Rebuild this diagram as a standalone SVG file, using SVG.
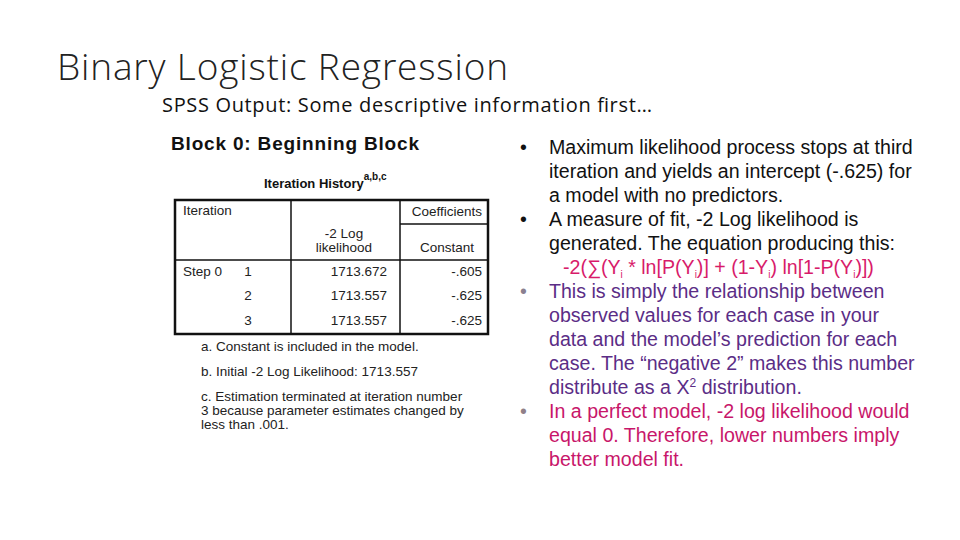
<svg xmlns="http://www.w3.org/2000/svg" width="960" height="540" viewBox="0 0 960 540">
<style>
.t{font-family:"Liberation Sans",Arial,sans-serif;fill:#111}
.r{font-family:"Liberation Sans",Arial,sans-serif;font-size:19.6px}
.s{font-family:"Liberation Sans",Arial,sans-serif;font-size:13.5px;fill:#222}
.tb{fill:none;stroke:#111;stroke-width:2.5}
.ln{stroke:#111;stroke-width:1.5}
</style>
<rect width="960" height="540" fill="#fff"/>
<g id="title">
<text x="57" y="80" font-family="'Open Sans',sans-serif" font-weight="300" font-size="37" fill="#222" textLength="451">Binary Logistic Regression</text>
<text x="162" y="112" font-family="'Open Sans',sans-serif" font-size="20" fill="#111" textLength="490">SPSS Output:  Some descriptive information first…</text>
</g>
<g id="table">
<text x="171" y="150" class="t" font-size="19" font-weight="bold" textLength="248">Block 0: Beginning Block</text>
<text x="264" y="188" class="t" font-size="13" font-weight="bold">Iteration History<tspan font-size="10" dy="-8">a,b,c</tspan></text>
<rect x="175" y="200" width="313" height="134" class="tb"/>
<line x1="291" y1="200" x2="291" y2="334" class="ln"/>
<line x1="400" y1="200" x2="400" y2="334" class="ln"/>
<line x1="400" y1="224" x2="488" y2="224" class="ln"/>
<line x1="175" y1="260" x2="488" y2="260" class="ln"/>
<text x="183" y="215" class="s">Iteration</text>
<text x="482" y="216" class="s" text-anchor="end">Coefficients</text>
<text x="344" y="238" class="s" font-size="12.5" text-anchor="middle">-2 Log</text>
<text x="344" y="252" class="s" font-size="12.5" text-anchor="middle">likelihood</text>
<text x="474" y="252" class="s" text-anchor="end">Constant</text>
<text x="183" y="276" class="s">Step 0</text>
<text x="248" y="276" class="s" text-anchor="middle">1</text>
<text x="248" y="300" class="s" text-anchor="middle">2</text>
<text x="248" y="325" class="s" text-anchor="middle">3</text>
<text x="387" y="276" class="s" text-anchor="end">1713.672</text>
<text x="387" y="300" class="s" text-anchor="end">1713.557</text>
<text x="387" y="325" class="s" text-anchor="end">1713.557</text>
<text x="482" y="276" class="s" text-anchor="end">-.605</text>
<text x="482" y="300" class="s" text-anchor="end">-.625</text>
<text x="482" y="325" class="s" text-anchor="end">-.625</text>
<text x="201" y="351" class="s">a. Constant is included in the model.</text>
<text x="201" y="376" class="s">b. Initial -2 Log Likelihood: 1713.557</text>
<text x="201" y="401" class="s">c. Estimation terminated at iteration number</text>
<text x="201" y="415" class="s">3 because parameter estimates changed by</text>
<text x="201" y="429" class="s">less than .001.</text>
</g>
<g id="bullets" class="r">
<g fill="#111">
<text x="520" y="154">•</text>
<text x="549" y="154">Maximum likelihood process stops at third</text>
<text x="549" y="178">iteration and yields an intercept (-.625) for</text>
<text x="549" y="202">a model with no predictors.</text>
<text x="520" y="226">•</text>
<text x="549" y="226">A measure of fit, -2 Log likelihood is</text>
<text x="549" y="250">generated. The equation producing this:</text>
</g>
<text x="563" y="274" fill="#d81b6a">-2(∑(Y<tspan font-size="10" dy="4">i</tspan><tspan dy="-4"> * ln[P(Y</tspan><tspan font-size="10" dy="4">i</tspan><tspan dy="-4">)] + (1-Y</tspan><tspan font-size="10" dy="4">i</tspan><tspan dy="-4">) ln[1-P(Y</tspan><tspan font-size="10" dy="4">i</tspan><tspan dy="-4">)])</tspan></text>
<g fill="#5b2d86">
<text x="520" y="298" fill="#8a8090">•</text>
<text x="549" y="298">This is simply the relationship between</text>
<text x="549" y="322">observed values for each case in your</text>
<text x="549" y="346">data and the model’s prediction for each</text>
<text x="549" y="370">case. The “negative 2” makes this number</text>
<text x="549" y="394">distribute as a X<tspan font-size="12" dy="-7">2</tspan><tspan dy="7"> distribution.</tspan></text>
</g>
<g fill="#c8166a">
<text x="520" y="418" fill="#908088">•</text>
<text x="549" y="418">In a perfect model, -2 log likelihood would</text>
<text x="549" y="442">equal 0. Therefore, lower numbers imply</text>
<text x="549" y="466">better model fit.</text>
</g>
</g>
</svg>
